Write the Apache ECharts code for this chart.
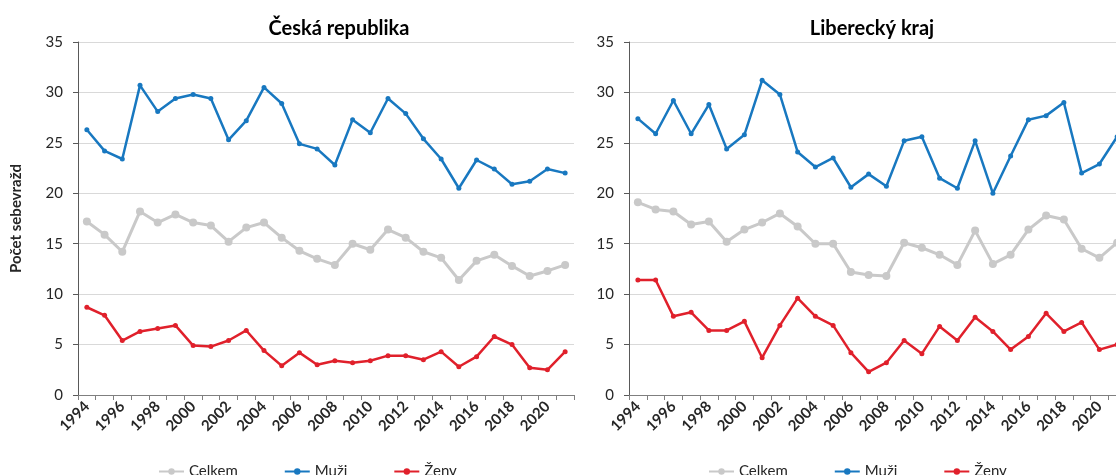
<!DOCTYPE html>
<html><head><meta charset="utf-8">
<script src="https://cdn.jsdelivr.net/npm/echarts@6/dist/echarts.min.js"></script>
<style>html,body{margin:0;padding:0;overflow:hidden;background:#fff;width:1116px;height:475px}#c{width:1140px;height:475px}</style>
</head><body><div id="c"></div>
<script>
const years = ['1994','1995','1996','1997','1998','1999','2000','2001','2002','2003','2004','2005','2006','2007','2008','2009','2010','2011','2012','2013','2014','2015','2016','2017','2018','2019','2020','2021'];
const seriesNames = ['Celkem','Muži','Ženy'];
const panelTitles = ['Česká republika','Liberecký kraj'];
const yAxisTitle = 'Počet sebevražd';
// Česká republika
const crCelkem = [17.2,15.9,14.2,18.2,17.1,17.9,17.1,16.8,15.2,16.6,17.1,15.6,14.3,13.5,12.9,15.0,14.4,16.4,15.6,14.2,13.6,11.4,13.3,13.9,12.8,11.8,12.3,12.9];
const crMuzi   = [26.3,24.2,23.4,30.7,28.1,29.4,29.8,29.4,25.3,27.2,30.5,28.9,24.9,24.4,22.8,27.3,26.0,29.4,27.9,25.4,23.4,20.5,23.3,22.4,20.9,21.2,22.4,22.0];
const crZeny   = [8.7,7.9,5.4,6.3,6.6,6.9,4.9,4.8,5.4,6.4,4.4,2.9,4.2,3.0,3.4,3.2,3.4,3.9,3.9,3.5,4.3,2.8,3.8,5.8,5.0,2.7,2.5,4.3];
// Liberecký kraj
const lkCelkem = [19.1,18.4,18.2,16.9,17.2,15.2,16.4,17.1,18.0,16.7,15.0,15.0,12.2,11.9,11.8,15.1,14.6,13.9,12.9,16.3,13.0,13.9,16.4,17.8,17.4,14.5,13.6,15.1];
const lkMuzi   = [27.4,25.9,29.2,25.9,28.8,24.4,25.8,31.2,29.8,24.1,22.6,23.5,20.6,21.9,20.7,25.2,25.6,21.5,20.5,25.2,20.0,23.7,27.3,27.7,29.0,22.0,22.9,25.6];
const lkZeny   = [11.4,11.4,7.8,8.2,6.4,6.4,7.3,3.7,6.9,9.6,7.8,6.9,4.2,2.3,3.2,5.4,4.1,6.8,5.4,7.7,6.3,4.5,5.8,8.1,6.3,7.2,4.5,5.0];

const FONT = 'Lato';
const colors = {Celkem:'#C9C9C9', 'Muži':'#1878C0', 'Ženy':'#E0202B'};
const sizes = {Celkem:8, 'Muži':5, 'Ženy':5};
const widths = {Celkem:3, 'Muži':2.5, 'Ženy':2.5};

function mkSeries(name, data, idx){
  return {name:name, type:'line', data:data, xAxisIndex:idx, yAxisIndex:idx,
    symbol:'circle', symbolSize:sizes[name], showSymbol:true,
    lineStyle:{color:colors[name], width:widths[name]},
    itemStyle:{color:colors[name]}, animation:false};
}
function mkX(idx){
  return {type:'category', gridIndex:idx, data:years, boundaryGap:true,
    axisLine:{lineStyle:{color:'#7f7f7f', width:1}},
    axisTick:{show:true, interval:0, length:5, lineStyle:{color:'#7f7f7f'}},
    axisLabel:{interval:1, rotate:45, fontFamily:FONT, fontWeight:'bold', fontSize:15, color:'#262626', margin:9}};
}
function mkY(idx, withName){
  const y = {type:'value', gridIndex:idx, min:0, max:35, interval:5,
    axisLine:{show:true, lineStyle:{color:'#595959', width:1}},
    axisTick:{show:true, length:5, lineStyle:{color:'#595959'}},
    splitLine:{lineStyle:{color:'#D9D9D9', width:1}},
    axisLabel:{fontFamily:FONT, fontSize:15, color:'#262626', margin:15}};
  if(withName){
    y.name = yAxisTitle; y.nameLocation='middle'; y.nameGap=54; y.nameRotate=90;
    y.nameTextStyle = {fontFamily:FONT, fontWeight:'bold', fontSize:15, color:'#262626'};
  }
  return y;
}
const legendCommon = {orient:'horizontal', top:459, itemWidth:25, itemHeight:8, itemGap:46,
  textStyle:{fontFamily:FONT, fontSize:15, color:'#262626'}, data:seriesNames};

const option = {
  animation:false,
  title:[
    {text:panelTitles[0], left:334, top:14, textAlign:'center', textStyle:{fontFamily:FONT, fontWeight:'bold', fontSize:20, color:'#000'}},
    {text:panelTitles[1], left:867, top:14, textAlign:'center', textStyle:{fontFamily:FONT, fontWeight:'bold', fontSize:20, color:'#000'}}
  ],
  legend:[Object.assign({left:153}, legendCommon), Object.assign({left:703}, legendCommon)],
  grid:[
    {left:78, top:42, width:496, height:353},
    {left:629, top:42, width:497, height:353}
  ],
  xAxis:[mkX(0), mkX(1)],
  yAxis:[mkY(0,true), mkY(1,false)],
  series:[
    mkSeries('Celkem', crCelkem, 0), mkSeries('Muži', crMuzi, 0), mkSeries('Ženy', crZeny, 0),
    mkSeries('Celkem', lkCelkem, 1), mkSeries('Muži', lkMuzi, 1), mkSeries('Ženy', lkZeny, 1)
  ]
};
const chart = echarts.init(document.getElementById('c'), null, {renderer:'canvas'});
chart.setOption(option);
</script></body></html>
